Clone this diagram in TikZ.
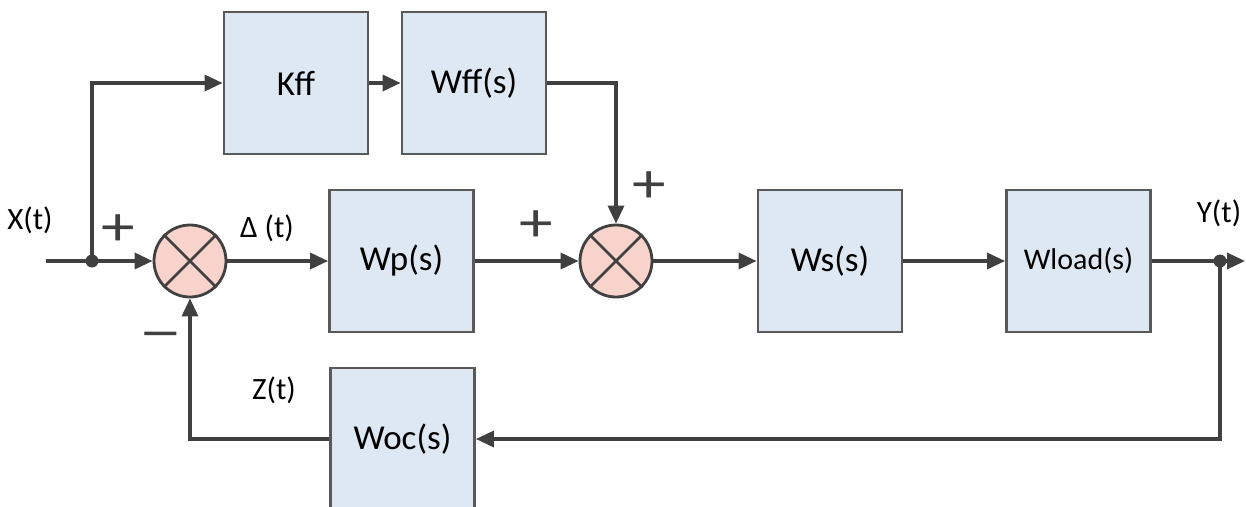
\documentclass[tikz,border=0pt]{standalone}
\usepackage{fontspec}
\setmainfont{Carlito}
\usetikzlibrary{arrows.meta}
\definecolor{ln}{HTML}{404040}
\definecolor{bfill}{HTML}{DEE8F2}
\definecolor{bdraw}{HTML}{595959}
\definecolor{sfill}{HTML}{F8D3CB}
\begin{document}
\begin{tikzpicture}[x=1pt,y=-1pt,
 blk/.style={draw=bdraw,line width=2.8pt,fill=bfill,minimum width=144pt,minimum height=142pt,inner sep=0pt,font=\fontsize{35}{38}\selectfont},
 sumc/.style={circle,draw=ln,line width=2.8pt,fill=sfill,minimum size=72pt,inner sep=0pt},
 conn/.style={draw=ln,line width=3.4pt},
 arr/.style={conn,-{Triangle[length=18pt,width=16pt]}},
 lbl/.style={font=\fontsize{31}{34}\selectfont,inner sep=0pt},
 sign/.style={font=\fontsize{56}{60}\selectfont,inner sep=0pt,text=ln},
 jdot/.style={circle,fill=ln,minimum size=13pt,inner sep=0pt}]
\useasboundingbox (0,0) rectangle (1246,506);
\clip (0,0) rectangle (1246,506);
% blocks
\node[blk] (kff) at (296,83) {Kff};
\node[blk] (wff) at (474,83) {Wff(s)};
\node[blk] (wp) at (401.5,261) {Wp(s)};
\node[blk] (ws) at (830,261) {Ws(s)};
\node[blk,font=\fontsize{30}{32}\selectfont] (wl) at (1078.5,261) {Wload(s)};
\node[blk] (woc) at (402.5,439) {Woc(s)};
% summing junctions
\node[sumc] (s1) at (190,261) {};
\node[sumc] (s2) at (616,261) {};
\foreach \s in {s1,s2}{
  \draw[draw=ln,line width=2.8pt] (\s.north west) -- (\s.south east);
  \draw[draw=ln,line width=2.8pt] (\s.north east) -- (\s.south west);
}
\coordinate (in) at (46,261);
\coordinate (out) at (1245,261);
\coordinate (j1) at (92,261);
\coordinate (j2) at (1220,261);
% connectors
\draw[arr] (in) -- (s1);
\draw[arr] (j1) |- (kff);
\draw[arr] (kff) -- (wff);
\draw[arr] (wff) -| (s2);
\draw[arr] (s1) -- (wp);
\draw[arr] (wp) -- (s2);
\draw[arr] (s2) -- (ws);
\draw[arr] (ws) -- (wl);
\draw[arr] (wl) -- (out);
\draw[arr] (j2) |- (woc);
\draw[arr] (woc) -| (s1);
\node[jdot] (d1) at (j1) {};
\node[jdot] (d2) at (j2) {};
% labels
\node[lbl] (lx) at (30,220) {X(t)};
\node[lbl] (ld) at (267,228) {Δ (t)};
\node[lbl] (ly) at (1219,213) {Y(t)};
\node[lbl] (lz) at (274,390) {Z(t)};
\node[sign,xscale=1.2] (p1) at (118,230) {+};
\node[sign,xscale=1.2] (p2) at (536,226) {+};
\node[sign,xscale=1.2] (p3) at (649,187) {+};
\node[sign,xscale=1.6] (m1) at (161,341) {–};
\end{tikzpicture}
\end{document}
